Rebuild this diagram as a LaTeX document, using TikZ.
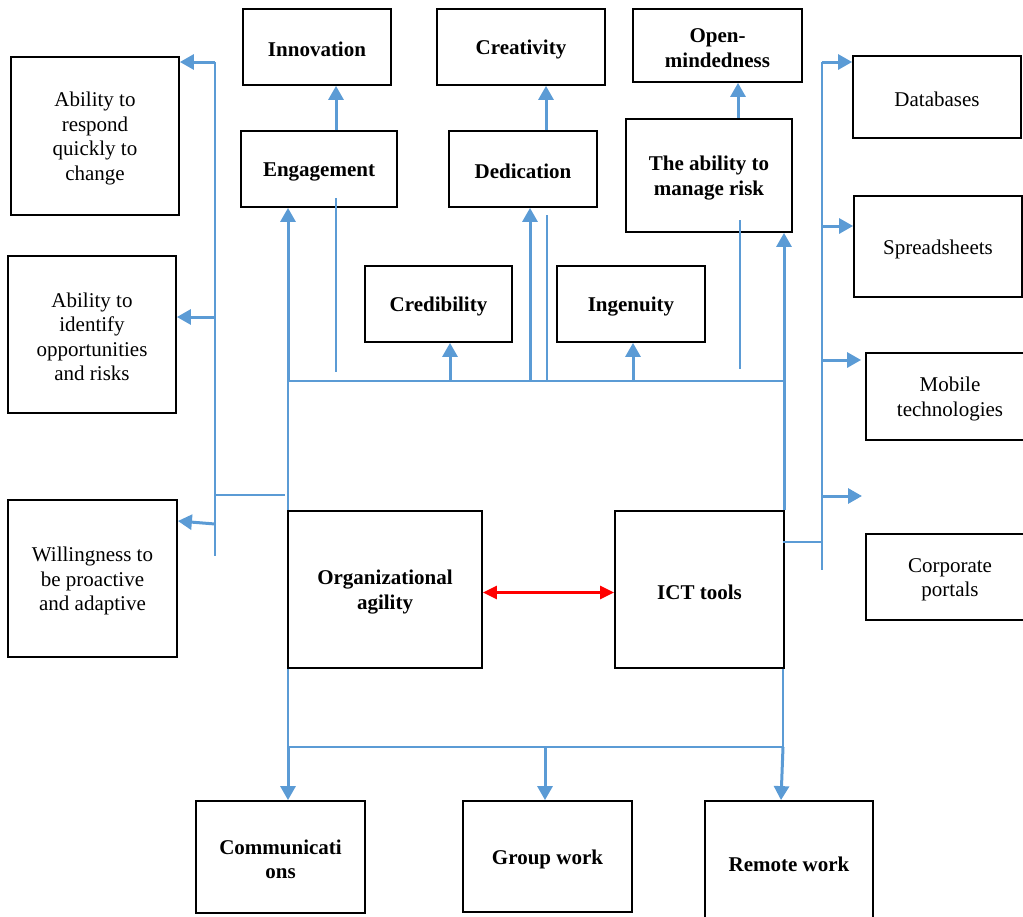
\documentclass[tikz,border=0pt]{standalone}
\usepackage{fontspec}
\setmainfont{Liberation Serif}
\usetikzlibrary{arrows.meta}
\definecolor{ablue}{HTML}{5B9BD5}
\newcommand{\tstrut}{\rule{0pt}{19.5pt}}
\begin{document}
\begin{tikzpicture}[x=1pt,y=-1pt,
  box/.style={draw=black,line width=1.8pt,inner sep=2pt,align=center,font=\fontsize{21}{24.5}\selectfont,execute at begin node={\tstrut}},
  bbox/.style={box,font=\fontsize{21}{24.5}\selectfont\bfseries},
  thk/.style={draw=ablue,line width=3pt,-{Triangle[length=14pt,width=15pt]}},
  thn/.style={draw=ablue,line width=1.4pt},
  redarr/.style={draw=red,line width=2.6pt,{Triangle[length=14pt,width=13pt]}-{Triangle[length=14pt,width=13pt]}}]
\useasboundingbox (0,0) rectangle (1023,916);
% top row
\node[bbox,minimum width=148pt,minimum height=76pt] (inn) at (317,47) {Innovation};
\node[bbox,minimum width=168pt,minimum height=76pt] (cre) at (521,47) {Creativity};
\node[bbox,minimum width=169pt,minimum height=73pt] (opm) at (717.5,45.5) {\tstrut Open-\\mindedness};
% second row
\node[bbox,minimum width=156pt,minimum height=76pt] (eng) at (319,169) {Engagement};
\node[bbox,minimum width=148pt,minimum height=76pt] (ded) at (523,169) {Dedication};
\node[bbox,minimum width=166pt,minimum height=113pt] (risk) at (709,175.5) {\tstrut The ability to\\manage risk};
% third row
\node[bbox,minimum width=147pt,minimum height=76pt] (cred) at (438.5,304) {Credibility};
\node[bbox,minimum width=148pt,minimum height=76pt] (ing) at (631,304) {Ingenuity};
% left column
\node[box,minimum width=168pt,minimum height=158pt] (resp) at (95,136) {\tstrut Ability to\\respond\\quickly to\\change};
\node[box,minimum width=168pt,minimum height=157pt] (iden) at (92,334.5) {\tstrut Ability to\\identify\\opportunities\\and risks};
\node[box,minimum width=169pt,minimum height=157pt] (will) at (92.5,578.5) {\tstrut Willingness to\\be proactive\\and adaptive};
% centre
\node[bbox,minimum width=194pt,minimum height=157pt] (org) at (385,589.5) {\tstrut Organizational\\agility};
\node[bbox,minimum width=169pt,minimum height=157pt] (ict) at (699.5,589.5) {ICT tools};
% right column
\node[box,minimum width=168pt,minimum height=82pt] (db) at (937,97) {Databases};
\node[box,minimum width=168pt,minimum height=101pt] (ss) at (938,246.5) {Spreadsheets};
\node[box,minimum width=168pt,minimum height=87pt] (mob) at (950,396.5) {\tstrut Mobile\\technologies};
\node[box,minimum width=168pt,minimum height=86pt] (cp) at (950,577) {\tstrut Corporate\\portals};
% bottom row
\node[bbox,minimum width=169pt,minimum height=112pt] (comm) at (280.5,857) {\tstrut Communicati\\ons};
\node[bbox,minimum width=169pt,minimum height=111pt] (gw) at (547.5,856.5) {Group work};
\node[bbox,minimum width=168pt,minimum height=121pt] (rw) at (789,861.5) {Remote work};
% column coordinates
\coordinate (cA) at (336,0);
\coordinate (cB) at (546,0);
\coordinate (cC) at (738,0);
% upward arrows to top row
\draw[thk] (eng.north -| cA) -- (inn.south -| cA);
\draw[thk] (ded.north -| cB) -- (cre.south -| cB);
\draw[thk] (risk.north -| cC) -- (opm.south -| cC);
% top bus
\coordinate (b1) at (288,381);
\coordinate (b2) at (784,381);
\coordinate (k1) at (450,381);
\coordinate (k2) at (530,381);
\coordinate (k3) at (633,381);
\draw[thn] (b1) -- (b2);
\draw[thk] (b1) -- (eng.south -| b1);
\draw[thk] (k1) -- (cred.south -| k1);
\draw[thk] (k2) -- (ded.south -| k2);
\draw[thk] (k3) -- (ing.south -| k3);
\draw[thn] (b1) -- (b1 |- org.north);
\draw[thk] (b2 |- ict.north) -- (risk.south -| b2);
% thin stubs
\coordinate (s1a) at (336,198); \coordinate (s1b) at (336,372);
\coordinate (s2a) at (547,215); \coordinate (s2b) at (547,381);
\coordinate (s3a) at (740,220); \coordinate (s3b) at (740,369);
\draw[thn] (s1a) -- (s1b);
\draw[thn] (s2a) -- (s2b);
\draw[thn] (s3a) -- (s3b);
% left bus
\coordinate (lt) at (215,62);
\coordinate (lm) at (215,317);
\coordinate (lw) at (215,524);
\coordinate (lb) at (215,556);
\coordinate (lh) at (215,495);
\coordinate (lh2) at (285,495);
\draw[thn] (lt) -- (lb);
\draw[thk] (lt) -- (resp.east |- lt);
\draw[thk] (lm) -- (iden.east |- lm);
\draw[thk] (lw) -- ([yshift=3pt]will.east |- lw);
\draw[thn] (lh) -- (lh2);
% right bus
\coordinate (rt) at (822,62);
\coordinate (r2) at (822,226);
\coordinate (r3) at (822,360);
\coordinate (r4) at (822,496);
\coordinate (rf) at (862,496);
\coordinate (rj) at (822,542);
\coordinate (rb) at (822,570);
\draw[thn] (rt) -- (rb);
\draw[thk] (rt) -- (db.west |- rt);
\draw[thk] (r2) -- (ss.west |- r2);
\draw[thk,shorten >=4pt] (r3) -- (mob.west |- r3);
\draw[thk] (r4) -- (rf);
\draw[thn] ([xshift=-2pt]ict.east |- rj) -- (rj);
% red double arrow
\draw[redarr] ([yshift=-3pt]org.east) -- ([yshift=-3pt]ict.west);
% bottom bus
\coordinate (bl) at (288,747);
\coordinate (bm) at (545,747);
\coordinate (br) at (783,747);
\draw[thn] (bl |- org.south) -- (bl) -- (br);
\draw[thn] (br |- ict.south) -- (br);
\draw[thk] (bl) -- (comm.north -| bl);
\draw[thk] (bm) -- (gw.north -| bm);
\draw[thk] (br) -- ([xshift=-2pt]rw.north -| br);
\end{tikzpicture}
\end{document}
